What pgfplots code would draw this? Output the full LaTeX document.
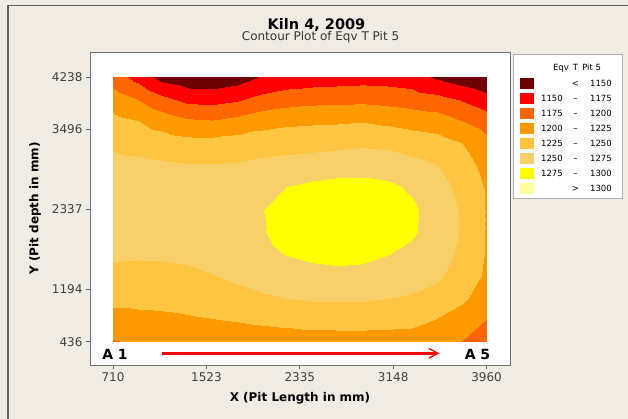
\documentclass[border=0pt]{standalone}
\usepackage{fontspec}
\setmainfont{DejaVu Sans}
\usepackage{pgfplots}
\pgfplotsset{compat=1.18}
\usetikzlibrary{arrows.meta}
\definecolor{bg}{RGB}{240,236,228}
\definecolor{c1}{RGB}{112,0,0}
\definecolor{c2}{RGB}{255,0,0}
\definecolor{c3}{RGB}{255,102,0}
\definecolor{c4}{RGB}{255,153,0}
\definecolor{c5}{RGB}{255,196,64}
\definecolor{c6}{RGB}{248,208,106}
\definecolor{c7}{RGB}{255,255,0}
\definecolor{c8}{RGB}{255,255,153}
\newcommand{\fs}[1]{\fontsize{#1}{#1}\selectfont}
\begin{document}
\begin{tikzpicture}[x=1pt,y=1pt]
\useasboundingbox (0,0) rectangle (628,419);
\fill[bg] (0,0) rectangle (628,419);
\draw[gray!75!black, line width=1.2pt] (8,0) -- (8,413.7) -- (628,413.7);
\begin{axis}[
  at={(90pt,54pt)}, anchor=south west,
  scale only axis, width=420pt, height=313pt,
  xmin=510, xmax=4164, ymin=101, ymax=4602,
  axis background/.style={fill=white},
  axis line style={draw=gray!90!black, line width=0.8pt},
  xtick={710,1523,2335,3148,3960},
  ytick={436,1194,2337,3496,4238},
  tick align=outside, tick pos=left,
  major tick length=4pt,
  tick style={gray!80!black, line width=0.6pt},
  /pgf/number format/assume math mode=true,
  /pgf/number format/1000 sep={},
  scaled ticks=false,
  ticklabel style={font=\fs{12}, text=black!75},
  xlabel={\textbf{X (Pit Length in mm)}},
  ylabel={\textbf{Y (Pit depth in mm)}},
  xlabel style={font=\fs{12}, at={(axis description cs:0.5,0)}, anchor=center, yshift=-33pt},
  ylabel style={font=\fs{12}, at={(axis description cs:-0.131,0.5)}, anchor=center},
  colormap={kiln}{rgb255=(112,0,0) rgb255=(255,0,0) rgb255=(255,102,0) rgb255=(255,153,0) rgb255=(255,196,64) rgb255=(248,208,106) rgb255=(255,255,0) rgb255=(255,255,153)},
  colormap access=piecewise constant,
  point meta min=1125, point meta max=1325,
]
\addplot[surf, shader=interp, mesh/cols=16, point meta=explicit] table[meta=T] {
x y T
710 4238 1188
926.7 4238 1166
1143.3 4238 1140.4
1360 4238 1132.8
1576.7 4238 1131.3
1793.3 4238 1138
2010 4238 1152
2226.7 4238 1158.5
2443.3 4238 1161
2660 4238 1162.8
2876.7 4238 1164.5
3093.3 4238 1164
3310 4238 1160.7
3526.7 4238 1146.5
3743.3 4238 1135.7
3960 4238 1126
710 3921.2 1213.2
926.7 3921.2 1199.4
1143.3 3921.2 1180.7
1360 3921.2 1167.3
1576.7 3921.2 1165.8
1793.3 3921.2 1171.5
2010 3921.2 1182.2
2226.7 3921.2 1188.4
2443.3 3921.2 1191.8
2660 3921.2 1192.7
2876.7 3921.2 1193.6
3093.3 3921.2 1191
3310 3921.2 1187.4
3526.7 3921.2 1182.4
3743.3 3921.2 1172.4
3960 3921.2 1159.5
710 3604.3 1232
926.7 3604.3 1225.2
1143.3 3604.3 1213.7
1360 3604.3 1203.8
1576.7 3604.3 1201.4
1793.3 3604.3 1207.7
2010 3604.3 1215.8
2226.7 3604.3 1219.5
2443.3 3604.3 1221.3
2660 3604.3 1222
2876.7 3604.3 1223.9
3093.3 3604.3 1220.1
3310 3604.3 1215.4
3526.7 3604.3 1212.2
3743.3 3604.3 1200.1
3960 3604.3 1187.7
710 3287.5 1245.8
926.7 3287.5 1241.9
1143.3 3287.5 1237.5
1360 3287.5 1233.4
1576.7 3287.5 1233.2
1793.3 3287.5 1235.7
2010 3287.5 1238.2
2226.7 3287.5 1240.8
2443.3 3287.5 1241.6
2660 3287.5 1243.7
2876.7 3287.5 1245.9
3093.3 3287.5 1244.3
3310 3287.5 1238.7
3526.7 3287.5 1234.7
3743.3 3287.5 1225
3960 3287.5 1207
710 2970.7 1256.7
926.7 2970.7 1255.4
1143.3 2970.7 1253.5
1360 2970.7 1251.3
1576.7 2970.7 1250.8
1793.3 2970.7 1252.4
2010 2970.7 1255.8
2226.7 2970.7 1258.6
2443.3 2970.7 1261.4
2660 2970.7 1263.7
2876.7 2970.7 1264.6
3093.3 2970.7 1263.2
3310 2970.7 1256.7
3526.7 2970.7 1250.2
3743.3 2970.7 1235.9
3960 2970.7 1216
710 2653.8 1262.5
926.7 2653.8 1262.1
1143.3 2653.8 1261.4
1360 2653.8 1260.3
1576.7 2653.8 1260.7
1793.3 2653.8 1262.1
2010 2653.8 1269
2226.7 2653.8 1275.3
2443.3 2653.8 1280
2660 2653.8 1283
2876.7 2653.8 1283
3093.3 2653.8 1280
3310 2653.8 1271.8
3526.7 2653.8 1259.1
3743.3 2653.8 1243.3
3960 2653.8 1222
710 2337 1264
926.7 2337 1264
1143.3 2337 1264
1360 2337 1263.9
1576.7 2337 1265.5
1793.3 2337 1267.1
2010 2337 1274.5
2226.7 2337 1282
2443.3 2337 1286
2660 2337 1290
2876.7 2337 1291
3093.3 2337 1286
3310 2337 1279
3526.7 2337 1264
3743.3 2337 1247.3
3960 2337 1223
710 2020.2 1261.2
926.7 2020.2 1260.9
1143.3 2020.2 1261.4
1360 2020.2 1262.3
1576.7 2020.2 1265.2
1793.3 2020.2 1267.7
2010 2020.2 1273.5
2226.7 2020.2 1283
2443.3 2020.2 1287
2660 2020.2 1290
2876.7 2020.2 1290
3093.3 2020.2 1284
3310 2020.2 1278
3526.7 2020.2 1264.8
3743.3 2020.2 1247.8
3960 2020.2 1223
710 1703.3 1254.1
926.7 1703.3 1252.9
1143.3 1703.3 1253.5
1360 1703.3 1255.4
1576.7 1703.3 1259.8
1793.3 1703.3 1263.6
2010 1703.3 1269.3
2226.7 1703.3 1276
2443.3 1703.3 1280
2660 1703.3 1282
2876.7 1703.3 1281
3093.3 1703.3 1275.8
3310 1703.3 1269.8
3526.7 1703.3 1261.6
3743.3 1703.3 1244.9
3960 1703.3 1223
710 1386.5 1243
926.7 1386.5 1242.1
1143.3 1386.5 1242.6
1360 1386.5 1244.5
1576.7 1386.5 1249.3
1793.3 1386.5 1254.8
2010 1386.5 1260.3
2226.7 1386.5 1263
2443.3 1386.5 1267.2
2660 1386.5 1268.7
2876.7 1386.5 1267.7
3093.3 1386.5 1263
3310 1386.5 1259.1
3526.7 1386.5 1254.2
3743.3 1386.5 1238.6
3960 1386.5 1221
710 1069.7 1231.1
926.7 1069.7 1231.4
1143.3 1069.7 1232.1
1360 1069.7 1233.7
1576.7 1069.7 1236.8
1793.3 1069.7 1241.4
2010 1069.7 1246.9
2226.7 1069.7 1250.3
2443.3 1069.7 1252.8
2660 1069.7 1253
2876.7 1069.7 1252.8
3093.3 1069.7 1250.3
3310 1069.7 1247.7
3526.7 1069.7 1240.4
3743.3 1069.7 1228.9
3960 1069.7 1214
710 752.8 1216.7
926.7 752.8 1218.7
1143.3 752.8 1220
1360 752.8 1222.1
1576.7 752.8 1224.1
1793.3 752.8 1226.5
2010 752.8 1229.5
2226.7 752.8 1232.1
2443.3 752.8 1234.7
2660 752.8 1235.1
2876.7 752.8 1235.6
3093.3 752.8 1233.9
3310 752.8 1232.4
3526.7 752.8 1223.7
3743.3 752.8 1214.7
3960 752.8 1199
710 436 1198
926.7 436 1203
1143.3 436 1205
1360 436 1207
1576.7 436 1208
1793.3 436 1209
2010 436 1210
2226.7 436 1211
2443.3 436 1212
2660 436 1213
2876.7 436 1213
3093.3 436 1213
3310 436 1212
3526.7 436 1203
3743.3 436 1199
3960 436 1188
};
\end{axis}
% titles
\node[font=\fs{14.5}\bfseries] at (316.5,394) {Kiln 4, 2009};
\node[font=\fs{12}, text=black!80] at (320.5,381.5) {Contour Plot of Eqv T Pit 5};
% A1 / A5 and arrow
\node[font=\fs{14}\bfseries] at (115,65) {A 1};
\node[font=\fs{14}\bfseries] at (477.5,65) {A 5};
\draw[red, line width=3pt] (162,65.7) -- (436,65.7);
\draw[red, line width=1.3pt] (429,70.5) -- (438,65.7) -- (429,61);
% legend
\draw[gray!60, fill=white] (513,365) rectangle (622,221);
\node[font=\fs{8.5}, anchor=base, inner sep=0pt] at (577,348.5) {Eqv\, T\, Pit 5};
\foreach \c [count=\k from 0] in {c1,c2,c3,c4,c5,c6,c7,c8} {
  \fill[\c] (520,{419-83.5-15*\k-5.5}) rectangle (534,{419-83.5-15*\k+5.5});
}
\foreach \r/\lo/\mid/\hi in {0//{<}/1150,1/1150/{–}/1175,2/1175/{–}/1200,3/1200/{–}/1225,4/1225/{–}/1250,5/1250/{–}/1275,6/1275/{–}/1300,7//{>}/1300} {
  \node[font=\fs{8.5}, anchor=base east, inner sep=0pt] at (563,{419-83.5-15*\r-3.1}) {\lo};
  \node[font=\fs{8.5}, anchor=base, inner sep=0pt] at (575.5,{419-83.5-15*\r-3.1}) {\mid};
  \node[font=\fs{8.5}, anchor=base east, inner sep=0pt] at (612,{419-83.5-15*\r-3.1}) {\hi};
}
\end{tikzpicture}
\end{document}
